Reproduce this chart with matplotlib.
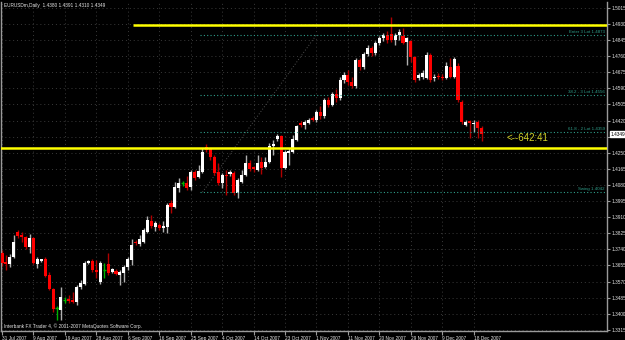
import matplotlib
matplotlib.use("Agg")
import matplotlib.pyplot as plt
import numpy as np

plt.rcParams["font.family"] = ["Liberation Sans", "DejaVu Sans"]

# --- MT4 black scheme ---
BG = "#000000"
FG = "#e6e6e6"
AXIS = "#9a9a9a"
GRID = "#3a3a3a"
UP = "#ffffff"
DOWN = "#ff0000"
UPWICK = "#b0b0b0"
DOWNWICK = "#b00000"
DOJI = "#00b400"
YELLOW = "#ffff00"
FIBO = "#2f9e8a"
TIMER = "#d2d22a"
SMALL = 3.4

# --- EURUSDm daily, 31 Jul 2007 .. 20 Dec 2007 ---
opens = [1.3721, 1.3674, 1.3663, 1.3700, 1.3832, 1.3816, 1.3806, 1.3753, 1.3800, 1.3663,
         1.3681, 1.3690, 1.3605, 1.3531, 1.3431, 1.3420, 1.3473, 1.3478, 1.3473, 1.3462,
         1.3542, 1.3557, 1.3668, 1.3679, 1.3631, 1.3568, 1.3631, 1.3663, 1.3621, 1.3626,
         1.3605, 1.3616, 1.3647, 1.3684, 1.3779, 1.3769, 1.3779, 1.3832, 1.3890, 1.3858,
         1.3869, 1.3853, 1.3858, 1.3985, 1.3964, 1.4064, 1.4091, 1.4091, 1.4070, 1.4149,
         1.4122, 1.4149, 1.4281, 1.4270, 1.4228, 1.4149, 1.4091, 1.4133, 1.4138, 1.4144,
         1.4038, 1.4096, 1.4133, 1.4196, 1.4175, 1.4159, 1.4202, 1.4175, 1.4202, 1.4286,
         1.4323, 1.4339, 1.4170, 1.4249, 1.4254, 1.4318, 1.4408, 1.4397, 1.4408, 1.4434,
         1.4423, 1.4466, 1.4445, 1.4529, 1.4503, 1.4561, 1.4540, 1.4635, 1.4661, 1.4624,
         1.4603, 1.4740, 1.4703, 1.4772, 1.4804, 1.4777, 1.4830, 1.4856, 1.4872, 1.4877,
         1.4846, 1.4872, 1.4867, 1.4835, 1.4840, 1.4756, 1.4645, 1.4650, 1.4645, 1.4767,
         1.4645, 1.4656, 1.4650, 1.4645, 1.4703, 1.4650, 1.4708, 1.4519, 1.4397, 1.4418,
         1.4402, 1.4413, 1.4380]
highs = [1.3737, 1.3711, 1.3716, 1.3816, 1.3843, 1.3832, 1.3811, 1.3822, 1.3806, 1.3700,
         1.3690, 1.3700, 1.3621, 1.3536, 1.3441, 1.3542, 1.3489, 1.3499, 1.3515, 1.3552,
         1.3579, 1.3679, 1.3684, 1.3690, 1.3684, 1.3679, 1.3668, 1.3721, 1.3642, 1.3637,
         1.3631, 1.3658, 1.3700, 1.3795, 1.3790, 1.3816, 1.3853, 1.3916, 1.3922, 1.3890,
         1.3880, 1.3890, 1.3985, 1.4001, 1.4096, 1.4117, 1.4101, 1.4128, 1.4159, 1.4159,
         1.4186, 1.4276, 1.4297, 1.4276, 1.4239, 1.4196, 1.4144, 1.4159, 1.4159, 1.4154,
         1.4117, 1.4159, 1.4239, 1.4212, 1.4180, 1.4239, 1.4228, 1.4228, 1.4302, 1.4318,
         1.4350, 1.4344, 1.4265, 1.4276, 1.4344, 1.4397, 1.4418, 1.4423, 1.4434, 1.4445,
         1.4476, 1.4497, 1.4540, 1.4545, 1.4571, 1.4587, 1.4650, 1.4677, 1.4687, 1.4650,
         1.4751, 1.4751, 1.4782, 1.4819, 1.4814, 1.4840, 1.4867, 1.4883, 1.4893, 1.4967,
         1.4883, 1.4904, 1.4909, 1.4861, 1.4846, 1.4761, 1.4672, 1.4687, 1.4782, 1.4777,
         1.4666, 1.4672, 1.4666, 1.4730, 1.4751, 1.4756, 1.4724, 1.4529, 1.4423, 1.4423,
         1.4423, 1.4423, 1.4391]
lows = [1.3653, 1.3631, 1.3647, 1.3695, 1.3800, 1.3779, 1.3742, 1.3721, 1.3663, 1.3642,
        1.3674, 1.3594, 1.3526, 1.3410, 1.3367, 1.3367, 1.3457, 1.3457, 1.3457, 1.3447,
        1.3531, 1.3552, 1.3663, 1.3621, 1.3589, 1.3557, 1.3589, 1.3605, 1.3616, 1.3605,
        1.3552, 1.3568, 1.3631, 1.3658, 1.3763, 1.3758, 1.3774, 1.3827, 1.3853, 1.3837,
        1.3843, 1.3832, 1.3827, 1.3932, 1.3959, 1.4043, 1.4075, 1.4054, 1.4054, 1.4107,
        1.4117, 1.4144, 1.4254, 1.4212, 1.4133, 1.4080, 1.4064, 1.4027, 1.4128, 1.4027,
        1.4012, 1.4091, 1.4128, 1.4154, 1.4149, 1.4154, 1.4138, 1.4170, 1.4196, 1.4239,
        1.4313, 1.4122, 1.4165, 1.4186, 1.4249, 1.4313, 1.4386, 1.4376, 1.4402, 1.4418,
        1.4413, 1.4429, 1.4434, 1.4492, 1.4497, 1.4519, 1.4529, 1.4619, 1.4608, 1.4592,
        1.4592, 1.4687, 1.4692, 1.4761, 1.4761, 1.4767, 1.4819, 1.4840, 1.4830, 1.4835,
        1.4819, 1.4846, 1.4825, 1.4714, 1.4730, 1.4624, 1.4635, 1.4640, 1.4640, 1.4624,
        1.4630, 1.4640, 1.4635, 1.4640, 1.4645, 1.4645, 1.4519, 1.4402, 1.4392, 1.4328,
        1.4360, 1.4328, 1.4310]
closes = [1.3668, 1.3663, 1.3700, 1.3779, 1.3811, 1.3806, 1.3753, 1.3800, 1.3668, 1.3690,
          1.3684, 1.3600, 1.3531, 1.3425, 1.3431, 1.3489, 1.3473, 1.3468, 1.3462, 1.3542,
          1.3563, 1.3668, 1.3679, 1.3631, 1.3621, 1.3668, 1.3631, 1.3616, 1.3637, 1.3610,
          1.3621, 1.3647, 1.3690, 1.3763, 1.3774, 1.3795, 1.3843, 1.3895, 1.3864, 1.3880,
          1.3853, 1.3864, 1.3975, 1.3964, 1.4070, 1.4091, 1.4091, 1.4064, 1.4149, 1.4117,
          1.4154, 1.4254, 1.4265, 1.4228, 1.4144, 1.4091, 1.4133, 1.4128, 1.4149, 1.4038,
          1.4107, 1.4133, 1.4196, 1.4165, 1.4165, 1.4196, 1.4170, 1.4202, 1.4286, 1.4297,
          1.4339, 1.4170, 1.4254, 1.4260, 1.4323, 1.4392, 1.4397, 1.4413, 1.4423, 1.4423,
          1.4466, 1.4445, 1.4529, 1.4503, 1.4561, 1.4540, 1.4635, 1.4661, 1.4624, 1.4603,
          1.4740, 1.4703, 1.4772, 1.4804, 1.4777, 1.4830, 1.4856, 1.4872, 1.4846, 1.4846,
          1.4872, 1.4888, 1.4830, 1.4856, 1.4756, 1.4635, 1.4661, 1.4672, 1.4767, 1.4635,
          1.4650, 1.4650, 1.4645, 1.4708, 1.4650, 1.4745, 1.4529, 1.4413, 1.4413, 1.4408,
          1.4408, 1.4381, 1.4349]

date_bars = [0, 8, 16, 24, 32, 40, 48, 56, 64, 72, 80, 88, 96, 104, 112, 120]
date_labels = ["31 Jul 2007", "9 Aug 2007", "19 Aug 2007", "28 Aug 2007", "6 Sep 2007",
               "16 Sep 2007", "25 Sep 2007", "4 Oct 2007", "14 Oct 2007", "23 Oct 2007",
               "1 Nov 2007", "11 Nov 2007", "20 Nov 2007", "29 Nov 2007", "9 Dec 2007",
               "18 Dec 2007"]
price_ticks = [1.3315, 1.3400, 1.3485, 1.3570, 1.3655, 1.3740, 1.3825, 1.3910, 1.3995,
               1.4080, 1.4165, 1.4250, 1.4335, 1.4420, 1.4505, 1.4590, 1.4675, 1.4760,
               1.4845, 1.4930, 1.5015]

# objects drawn on the chart
hlines_yellow = [1.4925, 1.4275]
hline_yellow_start = [33.3, -1.0]
fibo_levels = [1.4873, 1.4556, 1.4359, 1.4042]
fibo_labels = ["Enter 3 Lot 1.4873", "38.2 - 3 Lot 1.4556", "61.8 - 2 Lot 1.4359", "Swing 1.4042"]
fibo_start = 50.4
fibo_trend = ([51.0, 80.0], [1.4042, 1.4873])
bid = 1.4349
timer_text = "<--642:41"

X0, X1 = -0.25, 153.9
Y0, Y1 = 1.3309, 1.5046

fig = plt.figure(figsize=(6.25, 3.4), dpi=100, facecolor=BG)
ax = fig.add_axes([1 / 625, 9 / 340, 606 / 625, 329 / 340], facecolor=BG)
ax.set_xlim(X0, X1)
ax.set_ylim(Y0, Y1)

# grid
for b in date_bars:
    ax.axvline(b, color=GRID, lw=0.7, ls=(0, (1, 3)), zorder=0)
for p in price_ticks:
    ax.axhline(p, color=GRID, lw=0.7, ls=(0, (1, 3)), zorder=0)

o, h, l, c = (np.array(a) for a in (opens, highs, lows, closes))
x = np.arange(len(o))
up, dn, flat = c > o, c < o, c == o
ax.vlines(x[up], l[up], h[up], color=UPWICK, lw=1, zorder=2)
ax.vlines(x[dn], l[dn], h[dn], color=DOWNWICK, lw=1, zorder=2)
ax.vlines(x[flat], l[flat], h[flat], color=DOJI, lw=1, zorder=2)
ax.hlines(o[flat], x[flat] - 0.4, x[flat] + 0.4, color=DOJI, lw=1, zorder=3)
body = np.maximum(np.abs(c - o), 0.0006)
ax.bar(x[up], body[up], bottom=o[up], width=0.78, color=UP, lw=0, zorder=3)
ax.bar(x[dn], -body[dn], bottom=o[dn], width=0.78, color=DOWN, lw=0, zorder=3)

# horizontal lines
for lvl, xs in zip(hlines_yellow, hline_yellow_start):
    ax.hlines(lvl, xs, X1, color=YELLOW, lw=1.8, zorder=4)
for lvl, lab in zip(fibo_levels, fibo_labels):
    ax.hlines(lvl, fibo_start, X1, color=FIBO, lw=0.8, ls=(0, (1, 2)), zorder=4)
    ax.text(X1 - 0.6, lvl + 0.0004, lab, color=FIBO, fontsize=3.2, ha="right", va="bottom", zorder=5)
ax.plot(fibo_trend[0], fibo_trend[1], color="#505050", lw=0.7, ls=(0, (1, 2)), zorder=1)

ax.text(128.3, 1.4330, timer_text, color=TIMER, fontsize=7.0, ha="left", va="center", zorder=5)

# header / footer texts
ax.text(0.5, 1.5030, "EURUSDm,Daily  1.4380 1.4391 1.4310 1.4349", color=FG, fontsize=SMALL,
        ha="left", va="center")
ax.text(0.5, 1.3333, "Interbank FX Trader 4, \u00a9 2001-2007 MetaQuotes Software Corp.", color=FG,
        fontsize=SMALL, ha="left", va="center")

# axes styling
ax.spines["top"].set_visible(False)
for s in ("left", "right", "bottom"):
    ax.spines[s].set_color(AXIS)
    ax.spines[s].set_linewidth(1)
ax.yaxis.tick_right()
ax.set_yticks(price_ticks)
# the 1.4335 label sits under the bid box, as in the terminal
ax.set_yticklabels(["" if abs(p - bid) < 0.002 else f"{p:.4f}" for p in price_ticks])
ax.tick_params(axis="y", colors=AXIS, labelcolor=FG, labelsize=SMALL, length=2, width=0.8, pad=1)
ax.set_xticks(date_bars)
ax.set_xticklabels(date_labels)
ax.tick_params(axis="x", colors=AXIS, labelcolor=FG, labelsize=SMALL, length=3, width=0.8, pad=0.5)
for t in ax.get_xticklabels():
    t.set_ha("left")

# bid price box
ax.text(X1 + 0.9, bid, f"{bid:.4f}", color="#000000", fontsize=SMALL, ha="left", va="center",
        bbox=dict(boxstyle="square,pad=0.2", fc="#ffffff", ec="#ffffff"), zorder=6, clip_on=False)

fig.savefig("out.png", dpi=100, facecolor=BG)
